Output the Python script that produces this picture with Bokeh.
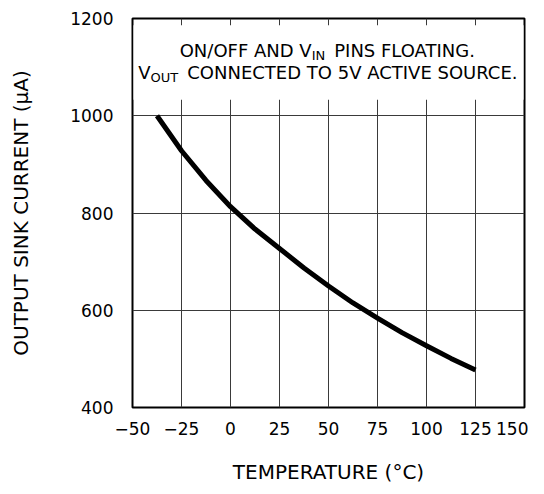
from bokeh.plotting import figure
from bokeh.models import FixedTicker, Range1d
from bokeh.core.properties import value
from bokeh.embed import file_html
from bokeh.resources import INLINE

# ---- data ----
temperature_c = [-37.5, -25, -12.5, 0, 12.5, 25, 37.5, 50, 62.5, 75, 87.5, 100, 112.5, 125]
sink_current_ua = [1000, 928, 867, 813, 767, 727, 687, 650, 615, 584, 554, 527, 501, 477]
x_ticks = [-50, -25, 0, 25, 50, 75, 100, 125, 150]
y_ticks = [400, 600, 800, 1000, 1200]

FONT = "DejaVu Sans"

p = figure(width=528, height=486, output_backend="svg", toolbar_location=None,
           x_range=Range1d(-50, 150), y_range=Range1d(400, 1200),
           min_border_left=132, min_border_right=4, min_border_top=18, min_border_bottom=76)
p.background_fill_color = "white"
p.border_fill_color = "white"
p.outline_line_color = "black"
p.outline_line_width = 2

for ax in (p.xaxis[0], p.yaxis[0]):
    ax.axis_line_color = None
    ax.major_tick_line_color = None
    ax.minor_tick_line_color = None
    ax.major_label_text_font = FONT
    ax.major_label_text_font_size = "17px"
    ax.major_label_text_color = "black"
    ax.axis_label_text_font = FONT
    ax.axis_label_text_font_size = "20px"
    ax.axis_label_text_font_style = "normal"
    ax.axis_label_text_color = "black"

p.xaxis.ticker = FixedTicker(ticks=x_ticks)
p.yaxis.ticker = FixedTicker(ticks=y_ticks)
p.xaxis.axis_label = "TEMPERATURE (°C)"
p.yaxis.axis_label = "OUTPUT SINK CURRENT (µA)"
p.xaxis.major_label_standoff = 8
p.xaxis.axis_label_standoff = 22
p.yaxis.major_label_standoff = 13
p.yaxis.axis_label_standoff = 34

p.xgrid[0].ticker = FixedTicker(ticks=x_ticks)
p.ygrid[0].ticker = FixedTicker(ticks=y_ticks)
for g in (p.xgrid[0], p.ygrid[0]):
    g.grid_line_color = "#3a3a3a"
    g.grid_line_width = 1

# white box behind the note
p.quad(left=[-49.5], right=[149.5], bottom=[1033], top=[1186],
       fill_color="white", line_color=None)

# curve
p.line(temperature_c, sink_current_ua, line_color="black", line_width=5,
       line_join="round", line_cap="butt")

# note text with subscripts
W = {'O': .787, 'N': .748, '/': .337, 'F': .575, ' ': .318, 'A': .684, 'D': .770,
     'V': .684, 'I': .295, 'P': .603, 'S': .635, 'L': .557, 'T': .611, 'G': .775,
     '.': .318, 'C': .698, 'E': .632, 'U': .732, 'R': .695, '5': .636, 'K': .656}
MAIN, SUB, GAP = 18, 13, 9

def width(s, size):
    return sum(W.get(c, .6) for c in s) * size

def note_line(pieces, base_y, sub_y):
    total = sum(width(t, sz) for t, sz, sub in pieces) + GAP
    off = -total / 2
    for t, sz, sub in pieces:
        p.text(x=[50], y=[sub_y if sub else base_y], text=[t], x_offset=off,
               text_font=value(FONT), text_font_size=f"{sz}px", text_color="black",
               text_align="left", text_baseline="alphabetic")
        off += width(t, sz) + (GAP if sub else 0)

note_line([("ON/OFF AND V", MAIN, False), ("IN", SUB, True), ("PINS FLOATING.", MAIN, False)],
          1134, 1123)
note_line([("V", MAIN, False), ("OUT", SUB, True), ("CONNECTED TO 5V ACTIVE SOURCE.", MAIN, False)],
          1089, 1078)

open("out.html", "w").write(file_html(p, INLINE))
